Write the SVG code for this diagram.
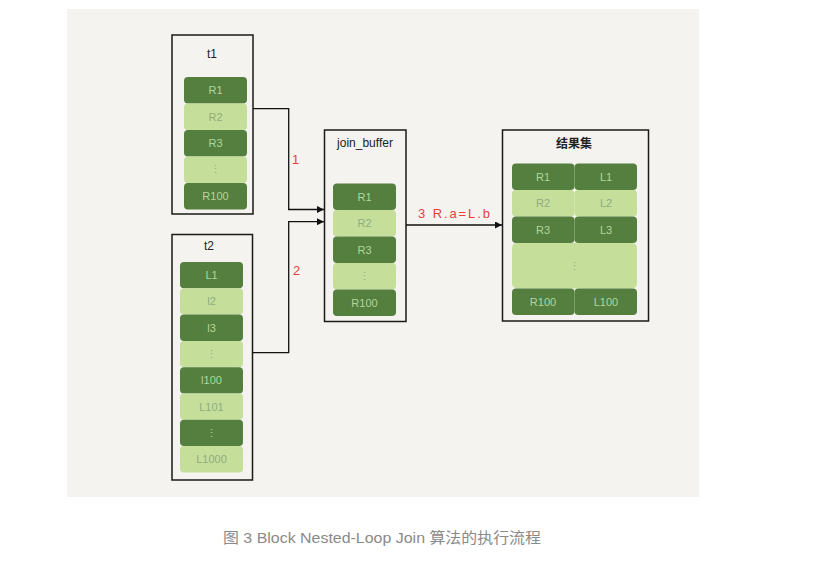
<svg xmlns="http://www.w3.org/2000/svg" width="833" height="566" viewBox="0 0 833 566">
<defs>
<style>
.bg{fill:#f4f3ef}
.box{fill:none;stroke:#1a1a1a;stroke-width:1.5}
.d{fill:#547f3f}
.l{fill:#c5df9b}
.td{font-family:"Liberation Sans",sans-serif;font-size:11px;fill:#b3d69a;text-anchor:middle}
.tl{font-family:"Liberation Sans",sans-serif;font-size:11px;fill:#8fac7e;text-anchor:middle}
.title{font-family:"Liberation Sans",sans-serif;font-size:12px;fill:#222;text-anchor:middle}
.lbl{font-family:"Liberation Sans",sans-serif;font-size:13px;fill:#e8403a}
.conn{fill:none;stroke:#111;stroke-width:1.3}
.cap{font-family:"Liberation Sans","Noto Sans CJK SC",sans-serif;font-size:15px;fill:#8a8a8a}
</style>
<marker id="ah" viewBox="0 0 10 10" refX="10" refY="5" markerWidth="7" markerHeight="7" orient="auto" markerUnits="userSpaceOnUse">
<path d="M0,0 L10,5 L0,10 z" fill="#111"/>
</marker>
</defs>
<rect width="833" height="566" fill="#ffffff"/>
<rect class="bg" x="67" y="9" width="632" height="488"/>

<g id="t1">
<rect class="box" x="172" y="35" width="81" height="179"/>
<text class="title" x="212" y="58">t1</text>
<rect class="d" x="184" y="77" width="63" height="26.5" rx="4"/>
<text class="td" x="215.5" y="94">R1</text>
<rect class="l" x="184" y="103.5" width="63" height="26.5" rx="4"/>
<text class="tl" x="215.5" y="120.5">R2</text>
<rect class="d" x="184" y="130" width="63" height="26.5" rx="4"/>
<text class="td" x="215.5" y="147">R3</text>
<rect class="l" x="184" y="156.5" width="63" height="26.5" rx="4"/>
<text class="tl" x="215.5" y="173">⋮</text>
<rect class="d" x="184" y="183" width="63" height="26.5" rx="4"/>
<text class="td" x="215.5" y="200">R100</text>
</g>

<g id="t2">
<rect class="box" x="172" y="234.5" width="80.5" height="245.5"/>
<text class="title" x="209" y="250">t2</text>
<rect class="d" x="180" y="262" width="63" height="26.3" rx="4"/>
<text class="td" x="211.5" y="279">L1</text>
<rect class="l" x="180" y="288.3" width="63" height="26.3" rx="4"/>
<text class="tl" x="211.5" y="305">l2</text>
<rect class="d" x="180" y="314.6" width="63" height="26.3" rx="4"/>
<text class="td" x="211.5" y="331.5">l3</text>
<rect class="l" x="180" y="340.9" width="63" height="26.3" rx="4"/>
<text class="tl" x="211.5" y="357.5">⋮</text>
<rect class="d" x="180" y="367.2" width="63" height="26.3" rx="4"/>
<text class="td" x="211.5" y="384">l100</text>
<rect class="l" x="180" y="393.5" width="63" height="26.3" rx="4"/>
<text class="tl" x="211.5" y="410.5">L101</text>
<rect class="d" x="180" y="419.8" width="63" height="26.3" rx="4"/>
<text class="td" x="211.5" y="436.5">⋮</text>
<rect class="l" x="180" y="446.1" width="63" height="26.3" rx="4"/>
<text class="tl" x="211.5" y="463">L1000</text>
</g>

<g id="join_buffer">
<rect class="box" x="324.5" y="130" width="81.5" height="191.5"/>
<text class="title" x="365" y="147">join_buffer</text>
<rect class="d" x="333" y="183.5" width="63" height="26.5" rx="4"/>
<text class="td" x="364.5" y="200.5">R1</text>
<rect class="l" x="333" y="210" width="63" height="26.5" rx="4"/>
<text class="tl" x="364.5" y="227">R2</text>
<rect class="d" x="333" y="236.5" width="63" height="26.5" rx="4"/>
<text class="td" x="364.5" y="253.5">R3</text>
<rect class="l" x="333" y="263" width="63" height="26.5" rx="4"/>
<text class="tl" x="364.5" y="280">⋮</text>
<rect class="d" x="333" y="289.5" width="63" height="26.5" rx="4"/>
<text class="td" x="364.5" y="306.5">R100</text>
</g>

<g id="result">
<rect class="box" x="502.5" y="130" width="146" height="191"/>
<text class="title" x="574" y="148" font-weight="bold" style="font-family:'Noto Sans CJK SC',sans-serif">结果集</text>
<rect class="d" x="512" y="163.5" width="62.5" height="26.5" rx="4"/>
<text class="td" x="543" y="180.5">R1</text>
<rect class="d" x="574.5" y="163.5" width="62.5" height="26.5" rx="4"/>
<text class="td" x="606" y="180.5">L1</text>
<rect class="l" x="512" y="190" width="62.5" height="26.5" rx="4"/>
<text class="tl" x="543" y="207">R2</text>
<rect class="l" x="574.5" y="190" width="62.5" height="26.5" rx="4"/>
<text class="tl" x="606" y="207">L2</text>
<rect class="d" x="512" y="216.5" width="62.5" height="26.5" rx="4"/>
<text class="td" x="543" y="233.5">R3</text>
<rect class="d" x="574.5" y="216.5" width="62.5" height="26.5" rx="4"/>
<text class="td" x="606" y="233.5">L3</text>
<rect class="l" x="512" y="243" width="125" height="45.5" rx="5"/>
<text class="tl" x="574.5" y="270">⋮</text>
<rect class="d" x="512" y="288.5" width="62.5" height="26.5" rx="4"/>
<text class="td" x="543" y="305.5">R100</text>
<rect class="d" x="574.5" y="288.5" width="62.5" height="26.5" rx="4"/>
<text class="td" x="606" y="305.5">L100</text>
</g>

<g id="connectors">
<path class="conn" d="M253,108.7 H288.7 V209.5 H324" marker-end="url(#ah)"/>
<path class="conn" d="M252.5,352.7 H288.7 V221.7 H324" marker-end="url(#ah)"/>
<path class="conn" d="M406,225 H502" marker-end="url(#ah)"/>
<text class="lbl" x="292" y="164">1</text>
<text class="lbl" x="293" y="275">2</text>
<text class="lbl" x="418" y="218" textLength="72" lengthAdjust="spacing">3 R.a=L.b</text>
</g>

<text class="cap" x="223" y="543" textLength="318" lengthAdjust="spacingAndGlyphs">图 3 Block Nested-Loop Join 算法的执行流程</text>
</svg>
